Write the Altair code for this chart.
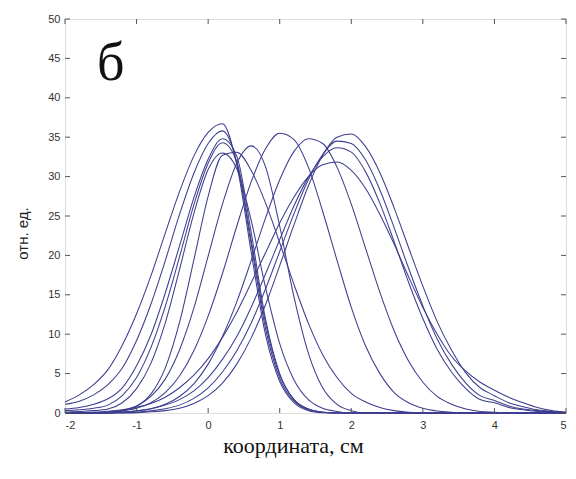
import altair as alt
import pandas as pd

# x positions of the sampled profiles (cm)
x_vals = [-2.0, -1.8, -1.6, -1.4, -1.2, -1.0, -0.8, -0.6, -0.4, -0.2,
          0.0, 0.2, 0.4, 0.6, 0.8, 1.0, 1.2, 1.4, 1.6, 1.8,
          2.0, 2.2, 2.4, 2.6, 2.8, 3.0, 3.2, 3.4, 3.6, 3.8,
          4.0, 4.2, 4.4, 4.6, 4.8, 5.0]

curve_L1 = [1.4, 2.3, 3.6, 5.5, 8.6, 12.6, 17.4, 22.8, 28.1, 32.6,
            35.6, 36.7, 31.5, 20.5, 10.0, 4.0, 1.3, 0.3, 0.05, 0,
            0, 0, 0, 0, 0, 0, 0, 0, 0, 0, 0, 0, 0, 0, 0, 0]
curve_L2 = [1.1, 1.5, 2.3, 3.6, 5.7, 9.2, 13.8, 19.3, 25.2, 30.4,
            34.2, 35.8, 31.8, 21.5, 10.8, 4.4, 1.5, 0.4, 0.1, 0,
            0, 0, 0, 0, 0, 0, 0, 0, 0, 0, 0, 0, 0, 0, 0, 0]
curve_L3 = [0.5, 0.7, 1.1, 1.8, 3.2, 6.0, 9.9, 15.2, 21.2, 27.3,
            32.2, 34.8, 32.6, 23.0, 12.0, 5.0, 1.7, 0.5, 0.1, 0,
            0, 0, 0, 0, 0, 0, 0, 0, 0, 0, 0, 0, 0, 0, 0, 0]
curve_L4 = [0.3, 0.4, 0.6, 1.0, 2.2, 4.5, 8.3, 13.5, 19.8, 26.4,
            31.7, 34.3, 31.9, 22.0, 11.5, 4.8, 1.7, 0.5, 0.1, 0,
            0, 0, 0, 0, 0, 0, 0, 0, 0, 0, 0, 0, 0, 0, 0, 0]
curve_L5 = [0.1, 0.2, 0.3, 0.5, 1.3, 3.1, 6.3, 11.4, 18.2, 25.3,
            30.9, 33.0, 31.0, 24.5, 16.0, 8.8, 4.2, 1.7, 0.6, 0.2,
            0, 0, 0, 0, 0, 0, 0, 0, 0, 0, 0, 0, 0, 0, 0, 0]
curve_L6 = [0, 0, 0, 0.05, 0.25, 0.85, 2.4, 5.7, 11.5, 19.4,
            27.5, 32.7, 33.1, 30.8, 26.7, 21.6, 16.3, 11.4, 7.4, 4.5,
            2.5, 1.4, 0.7, 0.3, 0.1, 0, 0, 0, 0, 0, 0, 0, 0, 0, 0, 0]
curve_M1 = [0, 0, 0, 0.1, 0.35, 0.9, 2.1, 4.3, 8.0, 13.3,
            19.9, 26.5, 31.7, 33.9, 31.3, 23.7, 14.7, 7.6, 3.2, 1.1,
            0.3, 0, 0, 0, 0, 0, 0, 0, 0, 0, 0, 0, 0, 0, 0, 0]
curve_M2 = [0, 0, 0, 0.1, 0.27, 0.6, 1.3, 2.6, 4.7, 7.9,
            12.3, 17.7, 23.7, 29.3, 33.5, 35.5, 34.7, 31.2, 25.6, 19.4,
            13.4, 8.5, 5.0, 2.6, 1.3, 0.6, 0.25, 0.1, 0, 0, 0, 0, 0, 0, 0, 0]
curve_M3 = [0, 0, 0, 0, 0.1, 0.25, 0.55, 1.1, 2.1, 3.7,
            6.2, 9.7, 14.1, 19.3, 24.7, 29.6, 33.2, 34.8, 34.2, 31.2,
            26.5, 20.9, 15.3, 10.4, 6.6, 3.9, 2.1, 1.1, 0.5, 0.2,
            0.1, 0, 0, 0, 0, 0]
curve_R1 = [0, 0, 0, 0, 0, 0.05, 0.15, 0.3, 0.6, 1.2,
            2.2, 3.8, 6.2, 9.5, 13.7, 18.7, 23.9, 28.8, 32.7, 35.0,
            35.4, 33.8, 30.5, 26.0, 21.0, 16.1, 11.6, 8.0, 5.1, 3.2,
            2.2, 1.3, 0.8, 0.4, 0.2, 0.1]
curve_R2 = [0, 0, 0, 0, 0.05, 0.1, 0.27, 0.55, 1.0, 1.85,
            3.2, 5.2, 7.9, 11.4, 15.7, 20.5, 25.3, 29.6, 32.8, 34.5,
            34.2, 32.1, 28.3, 23.5, 18.4, 13.6, 9.4, 6.2, 3.8, 2.2,
            1.6, 0.9, 0.5, 0.3, 0.15, 0.05]
curve_R3 = [0, 0, 0, 0.05, 0.12, 0.28, 0.53, 1.0, 1.7, 2.8,
            4.5, 6.8, 9.7, 13.4, 17.6, 22.0, 26.3, 29.9, 32.5, 33.65,
            33.1, 30.6, 26.6, 21.7, 16.6, 12.0, 8.1, 5.2, 3.1, 1.7,
            1.3, 0.7, 0.4, 0.2, 0.1, 0]
curve_R4 = [0.02, 0.05, 0.1, 0.22, 0.41, 0.73, 1.2, 2.0, 3.2, 4.8,
            6.9, 9.6, 12.8, 16.5, 20.3, 24.1, 27.4, 30.0, 31.5, 31.85,
            30.8, 28.5, 25.2, 21.4, 17.3, 13.4, 10.0, 7.2, 5.3, 3.9,
            2.9, 2.0, 1.3, 0.7, 0.3, 0.1]

curves = {
    "L1": curve_L1, "L2": curve_L2, "L3": curve_L3, "L4": curve_L4,
    "L5": curve_L5, "L6": curve_L6, "M1": curve_M1, "M2": curve_M2,
    "M3": curve_M3, "R1": curve_R1, "R2": curve_R2, "R3": curve_R3,
    "R4": curve_R4,
}

x_ticks = [-2, -1, 0, 1, 2, 3, 4, 5]
y_ticks = [0, 5, 10, 15, 20, 25, 30, 35, 40, 45, 50]

panel_label = ["б"]
panel_label_x = [-1.36]
panel_label_y = [42.3]

rows = []
for name, vals in curves.items():
    for xv, yv in zip(x_vals, vals):
        rows.append({"x": xv, "y": yv, "curve": name})
df = pd.DataFrame(rows)

W, H = 501, 394
LINE = "#3d3d8f"
AX = "#555555"

xs = alt.Scale(domain=[-2, 5], nice=False, zero=False)
ys = alt.Scale(domain=[0, 50], nice=False)

x_axis = alt.Axis(
    values=x_ticks, labelExpr="'' + datum.value", ticks=False,
    domain=False, grid=False, labelOverlap=False,
    labelFont="Liberation Sans", labelFontSize=11, labelColor="#333333",
    labelPadding=6,
    title="координата, см", titleFont="Liberation Serif",
    titleFontSize=22, titleFontWeight="normal", titleColor="#111111",
    titleX=228, titleY=39, titleBaseline="alphabetic", titleAlign="center")
y_axis = alt.Axis(
    values=y_ticks, format="d", ticks=False, domain=False, grid=False,
    labelOverlap=False,
    labelFont="Liberation Sans", labelFontSize=11, labelColor="#333333",
    labelPadding=5,
    title="отн. ед.", titleFont="Liberation Sans", titleFontSize=15,
    titleFontWeight="normal", titleColor="#222222",
    titleX=-43, titleY=214, titleAngle=270, titleAlign="center",
    titleBaseline="middle")

lines = alt.Chart(df).mark_line(
    interpolate="monotone", color=LINE, strokeWidth=1.05
).encode(
    x=alt.X("x:Q", scale=xs, axis=x_axis),
    y=alt.Y("y:Q", scale=ys, axis=y_axis),
    detail="curve:N",
)

xt = pd.DataFrame({"t": x_ticks})
yt = pd.DataFrame({"t": y_ticks})

tick_bottom = alt.Chart(xt).mark_rule(color=AX, strokeWidth=1).encode(
    x=alt.X("t:Q", scale=xs, axis=x_axis), y=alt.value(H), y2=alt.value(H - 5))
tick_top = alt.Chart(xt).mark_rule(color=AX, strokeWidth=1).encode(
    x=alt.X("t:Q", scale=xs, axis=x_axis), y=alt.value(0), y2=alt.value(5))
tick_left = alt.Chart(yt).mark_rule(color=AX, strokeWidth=1).encode(
    y=alt.Y("t:Q", scale=ys, axis=y_axis), x=alt.value(0), x2=alt.value(5))
tick_right = alt.Chart(yt).mark_rule(color=AX, strokeWidth=1).encode(
    y=alt.Y("t:Q", scale=ys, axis=y_axis), x=alt.value(W), x2=alt.value(W - 5))

lab = pd.DataFrame({"t": panel_label, "x": panel_label_x, "y": panel_label_y})
letter = alt.Chart(lab).mark_text(
    font="Liberation Serif", fontSize=54, align="center",
    baseline="alphabetic", color="#111111"
).encode(x=alt.X("x:Q", scale=xs, axis=x_axis),
         y=alt.Y("y:Q", scale=ys, axis=y_axis), text="t:N")

chart = alt.layer(
    lines, tick_bottom, tick_top, tick_left, tick_right, letter
).properties(
    width=W, height=H,
    autosize=alt.AutoSizeParams(type="none"),
    padding={"left": 65, "top": 19, "right": 10, "bottom": 66},
).configure_view(
    stroke=AX, strokeWidth=1
).configure(background="white")

chart.save("out.html", embed_options={"renderer": "svg", "actions": False})
